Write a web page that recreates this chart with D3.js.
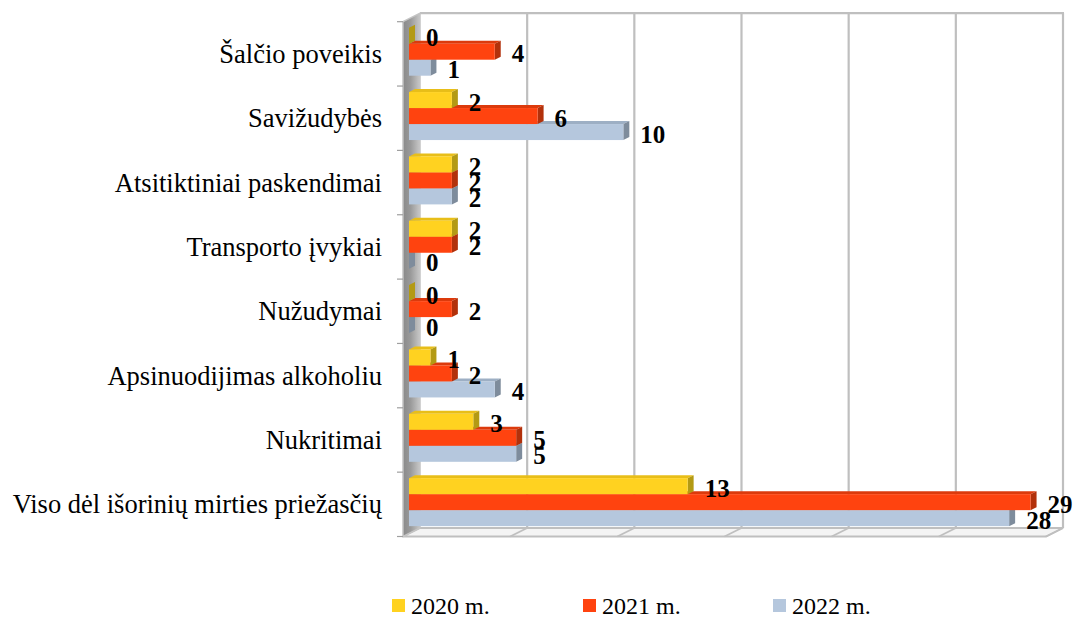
<!DOCTYPE html>
<html>
<head>
<meta charset="utf-8">
<script src="https://cdn.jsdelivr.net/npm/d3@7"></script>
<style>
  body { margin: 0; background: #fff; }
  text { font-family: "Times New Roman", "Liberation Serif", serif; }
</style>
</head>
<body>
<div id="vis-container"></div>
<script>
// ------------------------------ DATA ------------------------------ //
const categories = [
  "Šalčio poveikis",
  "Savižudybės",
  "Atsitiktiniai paskendimai",
  "Transporto įvykiai",
  "Nužudymai",
  "Apsinuodijimas alkoholiu",
  "Nukritimai",
  "Viso dėl išorinių mirties priežasčių"
];
const seriesNames = ["2020 m.", "2021 m.", "2022 m."];
const values2020 = [0, 2, 2, 2, 0, 1, 3, 13];
const values2021 = [4, 6, 2, 2, 2, 2, 5, 29];
const values2022 = [1, 10, 2, 0, 0, 4, 5, 28];
const xTicks = [0, 5, 10, 15, 20, 25, 30];

// ------------------------------ SET UP ------------------------------ //
const width = 1073;
const height = 617;
const wallDepth = { dx: 17, dy: -8.5 };
const barDepth = { dx: 6, dy: -3 };
const plotTop = 21.7;
const plotBottom = 536.5;

const colors = {
  "2020 m.": { front: "#FFD220", top: "#E8BE18", side: "#B39A14" },
  "2021 m.": { front: "#FF430F", top: "#DC3A0C", side: "#B2310B" },
  "2022 m.": { front: "#B5C7DD", top: "#9DAFC4", side: "#7E8C9C" }
};

const svg = d3.select("#vis-container")
  .append("svg")
  .attr("width", width)
  .attr("height", height);

// scales: front plane, back wall and the bars (which sit mid-depth)
const xFront = d3.scaleLinear().domain([0, 30]).range([403, 1046]);
const xBack = d3.scaleLinear().domain([0, 30]).range([403 + wallDepth.dx, 1046 + wallDepth.dx]);
const xBar = d3.scaleLinear().domain([0, 30]).range([409, 1052]);

const yBand = d3.scaleBand()
  .domain(categories)
  .range([plotTop, plotBottom])
  .paddingInner(0)
  .paddingOuter(0);

const ySub = d3.scaleBand()
  .domain(seriesNames)
  .range([6, 54]);

const table = categories.map((c, i) => ({
  category: c,
  values: [
    { key: "2020 m.", value: values2020[i] },
    { key: "2021 m.", value: values2021[i] },
    { key: "2022 m.", value: values2022[i] }
  ]
}));

// ------------------------------ WALLS ------------------------------ //
const grid = "#BFBFBF";
const backTop = plotTop + wallDepth.dy;
const backBottom = plotBottom + wallDepth.dy;

const defs = svg.append("defs");
const wallGrad = defs.append("linearGradient")
  .attr("id", "wallGrad")
  .attr("x1", "0").attr("x2", "1").attr("y1", "0").attr("y2", "0");
wallGrad.append("stop").attr("offset", "0").attr("stop-color", "#8A8A8A");
wallGrad.append("stop").attr("offset", "0.45").attr("stop-color", "#9A9A9A");
wallGrad.append("stop").attr("offset", "1").attr("stop-color", "#C8C8C8");

// back wall
svg.append("rect")
  .attr("x", xBack(0))
  .attr("y", backTop)
  .attr("width", xBack(30) - xBack(0))
  .attr("height", backBottom - backTop)
  .attr("fill", "#fff");

// vertical gridlines on the back wall
svg.append("g")
  .selectAll("line")
  .data(xTicks.slice(1))
  .enter()
  .append("line")
  .attr("x1", d => xBack(d))
  .attr("x2", d => xBack(d))
  .attr("y1", backTop)
  .attr("y2", backBottom)
  .attr("stroke", grid)
  .attr("stroke-width", 2.2);

// top edge of back wall
svg.append("line")
  .attr("x1", xBack(0)).attr("x2", xBack(30) + 1)
  .attr("y1", backTop).attr("y2", backTop)
  .attr("stroke", grid).attr("stroke-width", 2.2);

// floor
svg.append("polygon")
  .attr("points", [
    [xFront(0), plotBottom], [xFront(30), plotBottom],
    [xBack(30), backBottom], [xBack(0), backBottom]
  ].join(" "))
  .attr("fill", "#F4F4F4")
  .attr("stroke", grid)
  .attr("stroke-width", 1.8);

svg.append("g")
  .selectAll("line")
  .data(xTicks.slice(1))
  .enter()
  .append("line")
  .attr("x1", d => xFront(d))
  .attr("y1", plotBottom)
  .attr("x2", d => xBack(d))
  .attr("y2", backBottom)
  .attr("stroke", grid)
  .attr("stroke-width", 1.8);

// left side wall
svg.append("polygon")
  .attr("points", [
    [xFront(0), plotTop], [xBack(0), backTop],
    [xBack(0), backBottom], [xFront(0), plotBottom]
  ].join(" "))
  .attr("fill", "url(#wallGrad)")
  .attr("stroke", "#C4C4C4")
  .attr("stroke-width", 1.5);

// category ticks between bands
svg.append("g")
  .selectAll("line")
  .data(d3.range(categories.length + 1))
  .enter()
  .append("line")
  .attr("x1", xFront(0) - 6)
  .attr("x2", xFront(0))
  .attr("y1", i => plotTop + i * yBand.step())
  .attr("y2", i => plotTop + i * yBand.step())
  .attr("stroke", "#9F9F9F")
  .attr("stroke-width", 1.2);

// ------------------------------ BARS ------------------------------ //
const groups = svg.append("g")
  .selectAll("g")
  .data(table)
  .enter()
  .append("g")
  .attr("transform", d => `translate(0,${yBand(d.category)})`);

// draw bottom bar first so the upper bars cover its top face
const bars = groups.selectAll(".bar")
  .data(d => d.values.slice().reverse())
  .enter()
  .append("g")
  .attr("class", "bar");

bars.append("polygon")
  .attr("points", d => {
    const y0 = ySub(d.key), x0 = xBar(0), x1 = xBar(d.value);
    return [[x0, y0], [x0 + barDepth.dx, y0 + barDepth.dy],
      [x1 + barDepth.dx, y0 + barDepth.dy], [x1, y0]].join(" ");
  })
  .attr("fill", d => colors[d.key].top);

bars.append("polygon")
  .attr("points", d => {
    const y0 = ySub(d.key), y1 = y0 + ySub.bandwidth(), x1 = xBar(d.value);
    return [[x1, y0], [x1 + barDepth.dx, y0 + barDepth.dy],
      [x1 + barDepth.dx, y1 + barDepth.dy], [x1, y1]].join(" ");
  })
  .attr("fill", d => colors[d.key].side);

bars.append("rect")
  .attr("x", xBar(0))
  .attr("y", d => ySub(d.key))
  .attr("width", d => xBar(d.value) - xBar(0))
  .attr("height", ySub.bandwidth())
  .attr("fill", d => colors[d.key].front);

// value labels
groups.selectAll(".val")
  .data(d => d.values)
  .enter()
  .append("text")
  .attr("class", "val")
  .attr("x", d => xBar(d.value) + 17)
  .attr("y", d => ySub(d.key) + ySub.bandwidth() / 2 + 10.5)
  .attr("font-size", "25px")
  .attr("font-weight", "bold")
  .attr("fill", "#000")
  .text(d => d.value);

// category labels
svg.append("g")
  .selectAll("text")
  .data(categories)
  .enter()
  .append("text")
  .attr("x", 382)
  .attr("y", d => yBand(d) + yBand.bandwidth() / 2 + 9)
  .attr("text-anchor", "end")
  .attr("font-size", "26.5px")
  .attr("fill", "#000")
  .text(d => d);

// ------------------------------ LEGEND ------------------------------ //
const legendX = [392, 583, 773];
const legend = svg.append("g")
  .selectAll("g")
  .data(seriesNames)
  .enter()
  .append("g")
  .attr("transform", (d, i) => `translate(${legendX[i]},599)`);

legend.append("rect")
  .attr("width", 13)
  .attr("height", 13)
  .attr("fill", d => colors[d].front);

legend.append("text")
  .attr("x", 19)
  .attr("y", 15)
  .attr("font-size", "24px")
  .attr("fill", "#000")
  .text(d => d);
</script>
</body>
</html>
